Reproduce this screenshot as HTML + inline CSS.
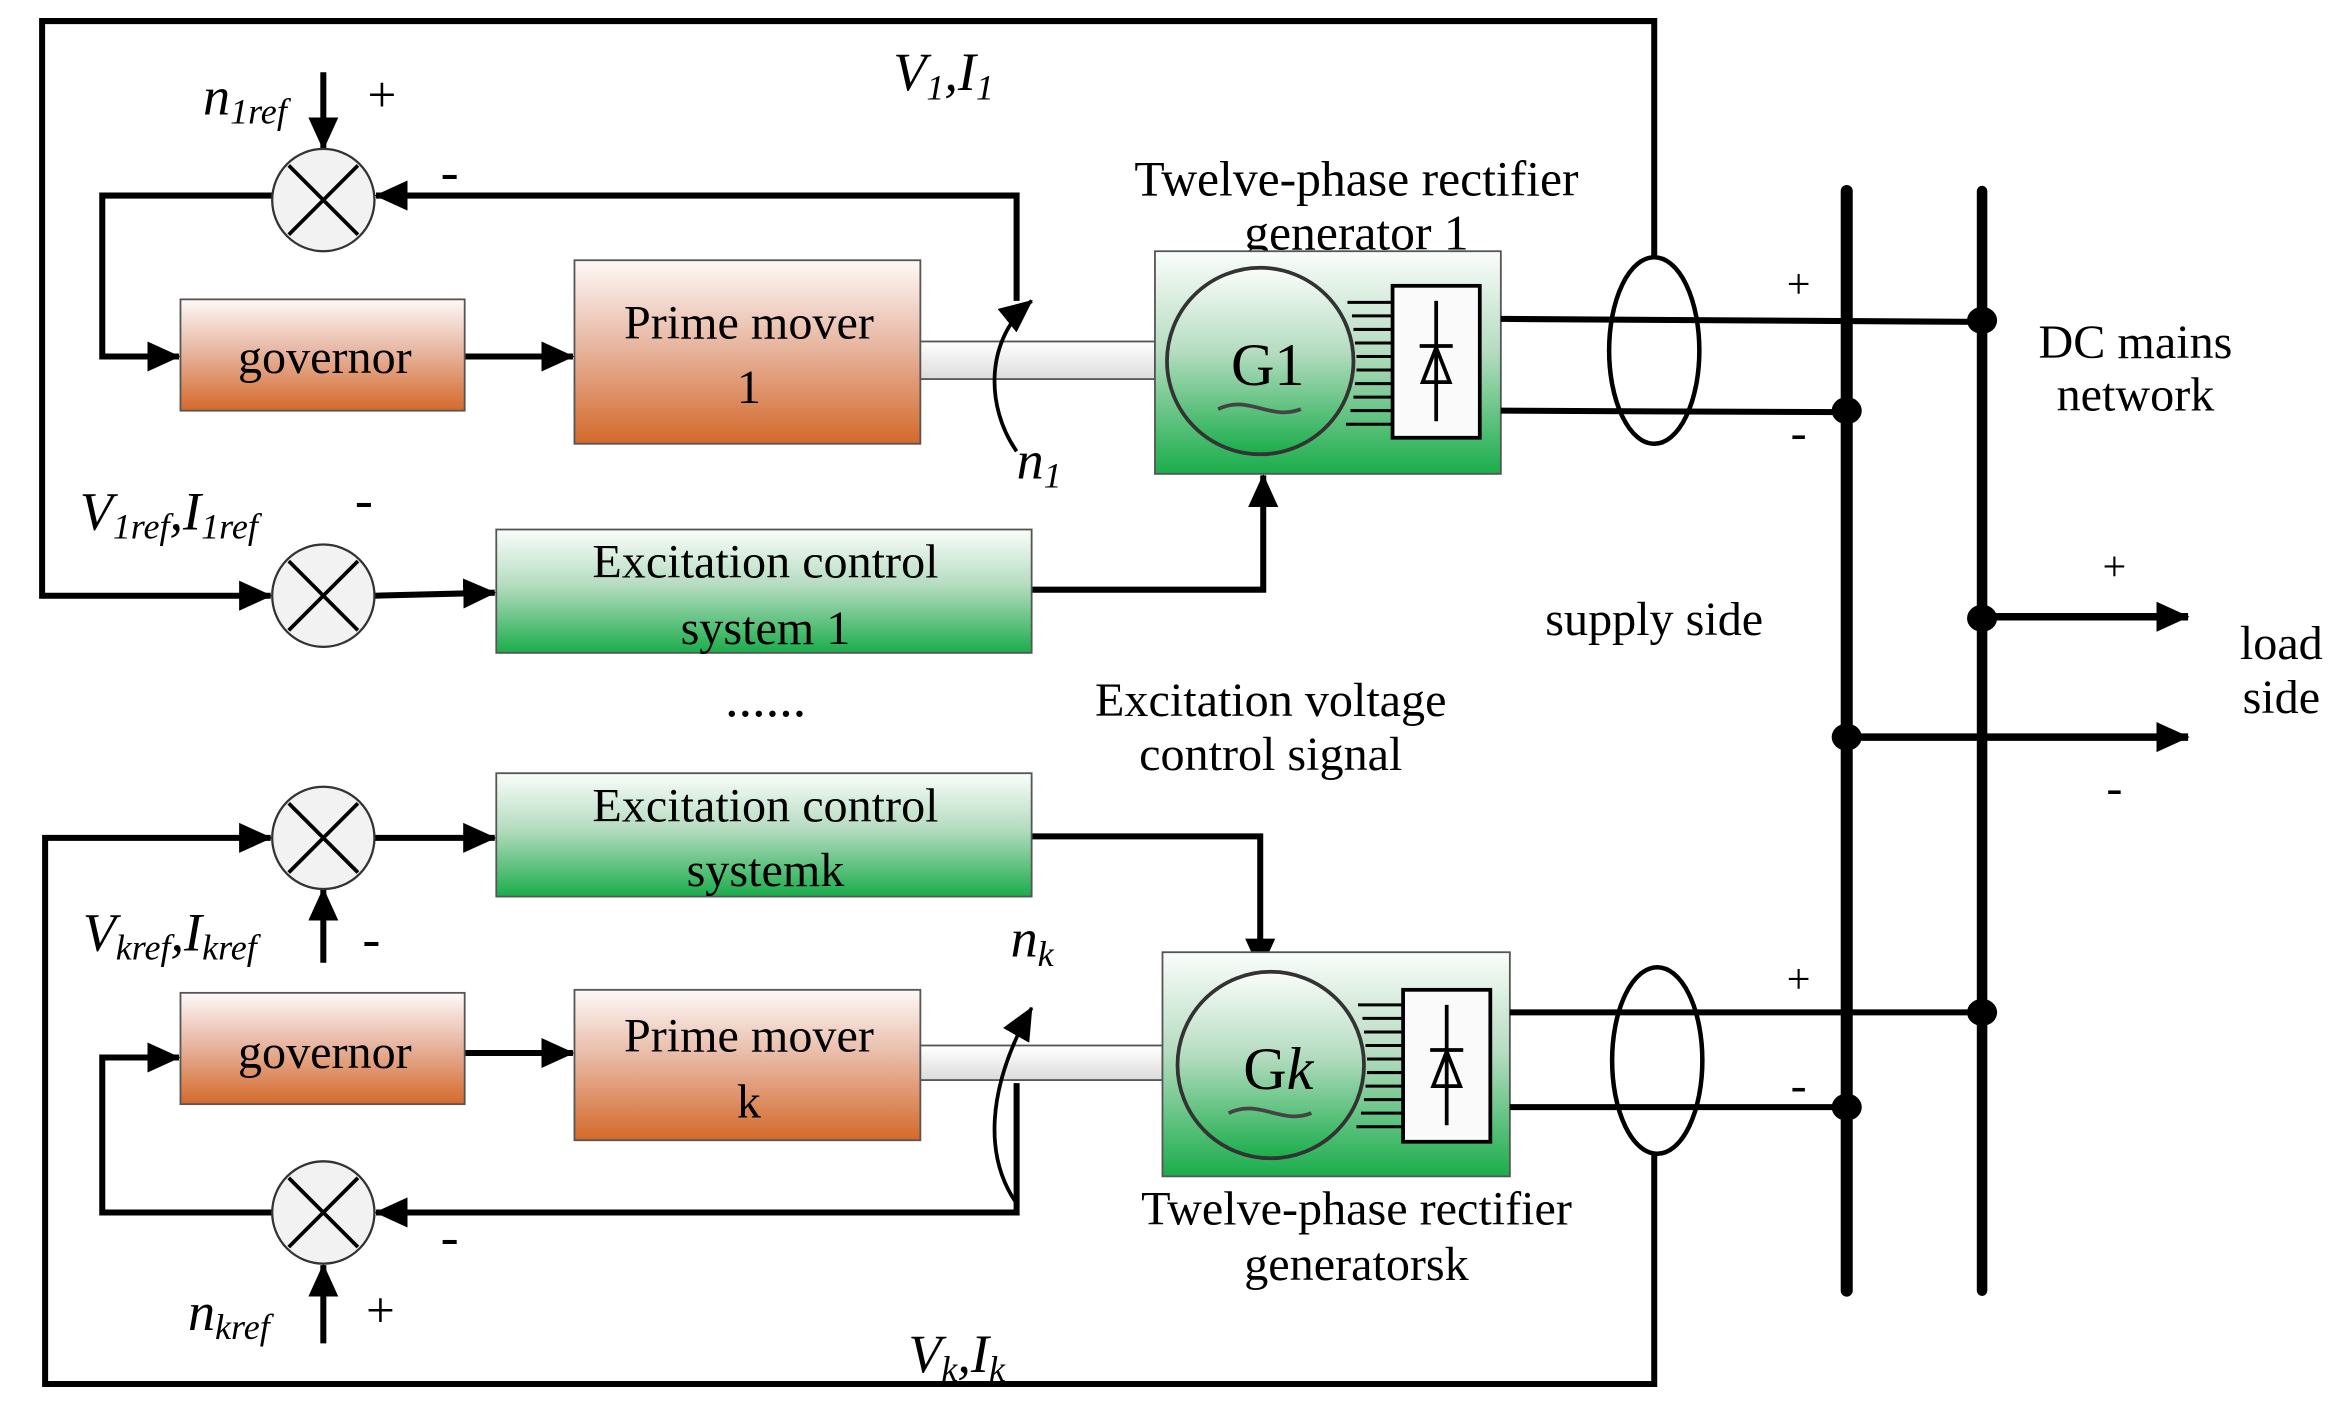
<!DOCTYPE html>
<html><head><meta charset="utf-8"><style>html,body{margin:0;padding:0;background:#fff}svg{display:block}text{font-family:"Liberation Serif","DejaVu Serif",serif}</style></head><body>
<svg width="2346" height="1402" viewBox="0 0 1560 932" preserveAspectRatio="none" xmlns="http://www.w3.org/2000/svg">
<defs>
<linearGradient id="or" x1="0" y1="0" x2="0" y2="1"><stop offset="0" stop-color="#fdf9f8"/><stop offset="0.45" stop-color="#e8b8a4"/><stop offset="1" stop-color="#d4692a"/></linearGradient>
<linearGradient id="gr" x1="0" y1="0" x2="0" y2="1"><stop offset="0" stop-color="#fafdfb"/><stop offset="0.45" stop-color="#b5dcc0"/><stop offset="1" stop-color="#1aad4b"/></linearGradient>
<linearGradient id="sh" x1="0" y1="0" x2="0" y2="1"><stop offset="0" stop-color="#fff"/><stop offset="1" stop-color="#dcdcdc"/></linearGradient>
<marker id="A" markerWidth="22" markerHeight="20" refX="21" refY="10" orient="auto" markerUnits="userSpaceOnUse"><path d="M0,0 L22,10 L0,20 z" fill="#000"/></marker>
</defs>
<g fill="none" stroke="#000" stroke-width="4">
<polyline points="1100,170 1100,14 28,14 28,396 180,396" marker-end="url(#A)"/>
<line x1="215" y1="48" x2="215" y2="99" marker-end="url(#A)"/>
<polyline points="676,200 676,130 250,130" marker-end="url(#A)"/>
<polyline points="181,130 68,130 68,237 119,237" marker-end="url(#A)"/>
<line x1="309" y1="237" x2="381" y2="237" marker-end="url(#A)"/>
<line x1="249" y1="396" x2="329" y2="394" marker-end="url(#A)"/>
<polyline points="686,392 840,392 840,316" marker-end="url(#A)"/>
<polyline points="686,556 838,556 838,645" marker-end="url(#A)"/>
<polyline points="1100,768 1100,920 30,920 30,557 180,557" marker-end="url(#A)"/>
<line x1="249" y1="557" x2="329" y2="557" marker-end="url(#A)"/>
<line x1="215" y1="640" x2="215" y2="591" marker-end="url(#A)"/>
<polyline points="676,720 676,806 250,806" marker-end="url(#A)"/>
<polyline points="181,806 68,806 68,703 119,703" marker-end="url(#A)"/>
<line x1="309" y1="700" x2="381" y2="700" marker-end="url(#A)"/>
<line x1="215" y1="893" x2="215" y2="841" marker-end="url(#A)"/>
</g>
<g stroke="#555" stroke-width="1.2">
<rect x="120" y="199" width="189" height="74" fill="url(#or)"/>
<rect x="382" y="173" width="230" height="122" fill="url(#or)"/>
<rect x="612" y="227" width="156" height="25" fill="url(#sh)"/>
<rect x="330" y="352" width="356" height="82" fill="url(#gr)"/>
<rect x="330" y="514" width="356" height="82" fill="url(#gr)"/>
<rect x="120" y="660" width="189" height="74" fill="url(#or)"/>
<rect x="382" y="658" width="230" height="100" fill="url(#or)"/>
<rect x="612" y="695" width="161" height="23" fill="url(#sh)"/>
</g>
<g fill="#f2f2f2" stroke="#333" stroke-width="1.5">
<ellipse cx="215" cy="133" rx="34" ry="34"/><ellipse cx="215" cy="396" rx="34" ry="34"/>
<ellipse cx="215" cy="557" rx="34" ry="34"/><ellipse cx="215" cy="806" rx="34" ry="34"/>
</g>
<g stroke="#000" stroke-width="2.5">
<path d="M192,110 L238,156 M238,110 L192,156"/><path d="M192,373 L238,419 M238,373 L192,419"/>
<path d="M192,534 L238,580 M238,534 L192,580"/><path d="M192,783 L238,829 M238,783 L192,829"/>
</g>
<g fill="none" stroke="#000" stroke-width="2.5">
<path d="M676,300 C655,270 655,225 686,200" marker-end="url(#A)"/>
<path d="M676,800 C655,770 655,725 686,670" marker-end="url(#A)"/>
</g>
<g font-size="33" text-anchor="middle" fill="#000">
<text x="902" y="130">Twelve-phase rectifier</text>
<text x="902" y="166">generator 1</text>
</g>
<g>
<rect x="768" y="167" width="230" height="148" fill="url(#gr)" stroke="#555" stroke-width="1.2"/>
<circle cx="838" cy="240" r="62" fill="url(#gr)" stroke="#333" stroke-width="2.5"/>
<g stroke="#000" stroke-width="2"><path d="M896,201H925M899,210H925M900,219H925M901,228H925M902,237H925M902,246H925M901,255H925M900,264H925M898,273H925M895,282H925"/></g>
<rect x="926" y="190" width="58" height="101" fill="#fafafa" stroke="#000" stroke-width="2.5"/>
<path d="M955,200V280M944,230H966M946,254H964L955,231Z" stroke="#000" stroke-width="2.5" fill="none"/>
<text x="843" y="256" font-size="40" text-anchor="middle">G1</text>
<path d="M810,272 C830,262 845,280 865,272" stroke="#444" stroke-width="2.5" fill="none"/>
<rect x="773" y="633" width="231" height="149" fill="url(#gr)" stroke="#555" stroke-width="1.2"/>
<circle cx="845" cy="708" r="62" fill="url(#gr)" stroke="#333" stroke-width="2.5"/>
<g stroke="#000" stroke-width="2"><path d="M903,668H933M906,677H933M907,686H933M908,695H933M909,704H933M909,713H933M908,722H933M907,731H933M905,740H933M902,749H933"/></g>
<rect x="933" y="658" width="58" height="101" fill="#fafafa" stroke="#000" stroke-width="2.5"/>
<path d="M962,668V748M951,698H973M953,722H971L962,699Z" stroke="#000" stroke-width="2.5" fill="none"/>
<text x="850" y="724" font-size="40" text-anchor="middle">G<tspan font-style="italic">k</tspan></text>
<path d="M817,740 C837,730 852,748 872,740" stroke="#444" stroke-width="2.5" fill="none"/>
</g>
<g stroke="#000" fill="none">
<line x1="998" y1="212" x2="1318" y2="214" stroke-width="4"/>
<line x1="998" y1="273" x2="1228" y2="274" stroke-width="4"/>
<line x1="1004" y1="673" x2="1318" y2="673" stroke-width="4"/>
<line x1="1004" y1="736" x2="1228" y2="736" stroke-width="4"/>
<ellipse cx="1100" cy="233" rx="30" ry="62" stroke-width="3"/>
<ellipse cx="1102" cy="705" rx="30" ry="62" stroke-width="3"/>
<line x1="1228" y1="127" x2="1228" y2="858" stroke-width="8" stroke-linecap="round"/>
<line x1="1318" y1="127" x2="1318" y2="858" stroke-width="7" stroke-linecap="round"/>
<line x1="1318" y1="410" x2="1455" y2="410" stroke-width="5" marker-end="url(#A)"/>
<line x1="1228" y1="490" x2="1455" y2="490" stroke-width="5" marker-end="url(#A)"/>
</g>
<g fill="#000">
<ellipse cx="1318" cy="213" rx="10" ry="9"/><ellipse cx="1228" cy="273" rx="10" ry="9"/>
<ellipse cx="1318" cy="411" rx="10" ry="9"/><ellipse cx="1228" cy="490" rx="10" ry="9"/>
<ellipse cx="1318" cy="673" rx="10" ry="9"/><ellipse cx="1228" cy="736" rx="10" ry="9"/>
</g>
<g font-size="32" text-anchor="middle" fill="#000">
<text x="216" y="248">governor</text>
<text x="498" y="225">Prime mover</text><text x="498" y="268">1</text>
<text x="509" y="384">Excitation control</text><text x="509" y="428">system 1</text>
<text x="509" y="546">Excitation control</text><text x="509" y="589">systemk</text>
<text x="216" y="710">governor</text>
<text x="498" y="699">Prime mover</text><text x="498" y="743">k</text>
<text x="845" y="476">Excitation voltage</text><text x="845" y="512">control signal</text>
<text x="902" y="814">Twelve-phase rectifier</text><text x="902" y="851">generatorsk</text>
<text x="1100" y="422">supply side</text>
<text x="1420" y="238">DC mains</text><text x="1420" y="273">network</text>
<text x="1517" y="438">load</text><text x="1517" y="474">side</text>
<text x="510" y="476" font-style="italic" font-size="36">......</text>
<text x="1196" y="198" font-size="28">+</text><text x="1196" y="298" font-size="32">-</text>
<text x="1196" y="660" font-size="28">+</text><text x="1196" y="732" font-size="32">-</text>
<text x="1406" y="386" font-size="28">+</text><text x="1406" y="534" font-size="32">-</text>
<text x="254" y="74" font-size="34">+</text><text x="299" y="126" font-size="36">-</text>
<text x="242" y="344" font-size="36">-</text><text x="247" y="636" font-size="36">-</text>
<text x="299" y="834" font-size="36">-</text><text x="253" y="882" font-size="34">+</text>
</g>
<g font-size="36" font-style="italic" fill="#000">
<text x="135" y="76">n<tspan font-size="24" dy="6">1ref</tspan></text>
<text x="594" y="60">V<tspan font-size="24" dy="6">1</tspan><tspan dy="-6">,I</tspan><tspan font-size="24" dy="6">1</tspan></text>
<text x="676" y="318">n<tspan font-size="24" dy="6">1</tspan></text>
<text x="53" y="352">V<tspan font-size="24" dy="6">1ref</tspan><tspan dy="-6">,I</tspan><tspan font-size="24" dy="6">1ref</tspan></text>
<text x="55" y="632">V<tspan font-size="24" dy="6">kref</tspan><tspan dy="-6">,I</tspan><tspan font-size="24" dy="6">kref</tspan></text>
<text x="672" y="636">n<tspan font-size="24" dy="6">k</tspan></text>
<text x="125" y="884">n<tspan font-size="24" dy="6">kref</tspan></text>
<text x="604" y="912">V<tspan font-size="24" dy="6">k</tspan><tspan dy="-6">,I</tspan><tspan font-size="24" dy="6">k</tspan></text>
</g>
</svg>
</body></html>
